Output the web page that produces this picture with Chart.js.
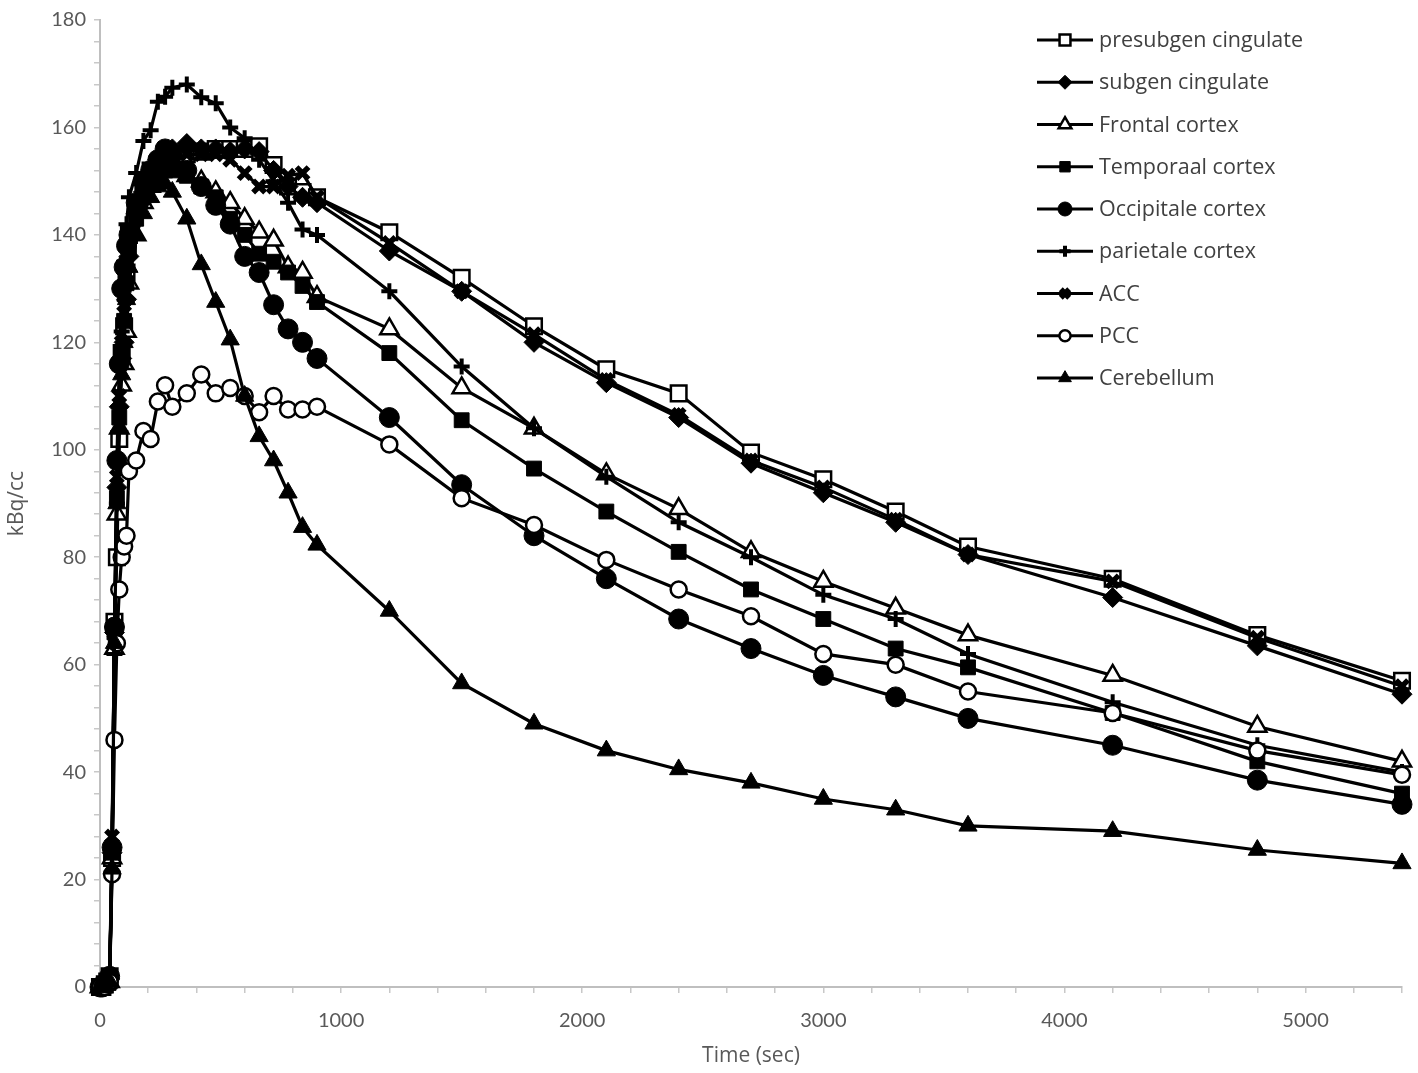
<!DOCTYPE html>
<html lang="en">
<head>
    <meta charset="UTF-8">
    <title>Time activity curves</title>
    <script src="https://cdn.jsdelivr.net/npm/chart.js"></script>
    <style>
        body {
            margin: 0;
            padding: 0;
            background: #fff;
        }
        canvas {
            display: block;
        }
    </style>
</head>
<body>
    <canvas id="tacChart" width="1418" height="1073"></canvas>

    <script>
        // frame times (sec)
        var times = [0, 10, 20, 30, 40, 50, 60, 70, 80, 90, 100, 110, 120,
            150, 180, 210, 240, 270, 300,
            360, 420, 480, 540, 600, 660, 720, 780, 840, 900,
            1200, 1500, 1800, 2100, 2400, 2700, 3000, 3300, 3600, 4200, 4800, 5400];

        var seriesNames = ['presubgen cingulate', 'subgen cingulate', 'Frontal cortex', 'Temporaal cortex',
            'Occipitale cortex', 'parietale cortex', 'ACC', 'PCC', 'Cerebellum'];

        // kBq/cc per region
        var presubgen = [0, 0, 0.5, 1, 2, 24, 68, 80, 102, 118, 123, 133, 140,
            146, 150, 152, 153, 154, 155,
            155, 155.5, 156, 156, 156, 156.5, 153, 149, 148, 147,
            140.5, 132, 123, 115, 110.5, 99.5, 94.5, 88.5, 82, 76, 65.5, 57];
        var subgen = [0, 0, 0.5, 1, 1.5, 25, 66, 93, 108, 117, 120, 128, 136,
            144, 148, 151, 154, 155, 156,
            157, 156, 156, 155.5, 156, 155.5, 152, 149, 147, 146,
            137, 129.5, 120, 112.5, 106, 97.5, 92, 86.5, 80.5, 72.5, 63.5, 54.5];
        var frontal = [0, 0, 0.5, 1, 1, 24, 63, 88, 104, 112, 116, 122, 131,
            140, 146, 149, 151, 152, 152,
            151, 150, 148, 146, 143, 140.5, 139, 134, 133, 128.5,
            122.5, 111.5, 104, 95.5, 89, 81, 75.5, 70.5, 65.5, 58, 48.5, 42];
        var temporaal = [0, 0, 0.5, 1, 1, 25, 66, 91, 106, 118, 124, 131, 137,
            143, 147, 150, 151, 152, 152,
            151, 149, 147, 143, 140, 136.5, 135, 133, 130.5, 127.5,
            118, 105.5, 96.5, 88.5, 81, 74, 68.5, 63, 59.5, 51, 42, 36];
        var occipitale = [0, 0, 0.5, 1, 2, 26, 67, 98, 116, 130, 134, 138, 140,
            146, 150, 152, 154, 156, 155,
            152, 149, 145.5, 142, 136, 133, 127, 122.5, 120, 117,
            106, 93.5, 84, 76, 68.5, 63, 58, 54, 50, 45, 38.5, 34];
        var parietale = [0, 0, 0.5, 1, 1.5, 25, 62, 90, 108, 122, 135, 142, 147,
            151.5, 157.5, 159.5, 164.8, 165.7, 167.4,
            168, 165.6, 164.5, 160, 158, 154, 150, 146, 141, 140,
            129.5, 115.5, 104, 95, 86.5, 80, 73, 68.5, 62, 53, 45, 40];
        var acc = [0, 0, 0.5, 1, 2, 28, 66, 95, 110, 120, 127, 135, 140,
            146, 149, 152, 153, 154, 154,
            155, 155, 155, 154, 151.5, 149, 149, 151, 151.5, 147,
            138.5, 129.5, 121.5, 113, 106.5, 98, 93, 87, 80.5, 75.5, 65, 56];
        var pcc = [0, 0, 0, 0.5, 1, 21, 46, 64, 74, 80, 82, 84, 96,
            98, 103.5, 102, 109, 112, 108,
            110.5, 114, 110.5, 111.5, 110, 107, 110, 107.5, 107.5, 108,
            101, 91, 86, 79.5, 74, 69, 62, 60, 55, 51, 44, 39.5];
        var cerebellum = [0, 0, 0.5, 1, 1, 22, 64, 90, 104, 114, 120, 128, 134,
            140, 144, 147, 149, 149.5, 148,
            143, 134.5, 127.5, 120.5, 110, 102.5, 98, 92, 85.6, 82.3,
            70, 56.5, 49, 44, 40.5, 38, 35, 33, 30, 29, 25.5, 23];

        var seriesValues = [presubgen, subgen, frontal, temporaal, occipitale, parietale, acc, pcc, cerebellum];

        // labelled tick values
        var xLabelValues = [0, 1000, 2000, 3000, 4000, 5000];
        var yLabelValues = [0, 20, 40, 60, 80, 100, 120, 140, 160, 180];

        // marker look for each series
        var markerStyles = [
            { style: 'rect', radius: 11, fill: '#fff', width: 2.5 },
            { style: 'rectRot', radius: 10, fill: '#000', width: 1 },
            { style: 'triangle', radius: 10.5, fill: '#fff', width: 2.5 },
            { style: 'rect', radius: 10.5, fill: '#000', width: 1 },
            { style: 'circle', radius: 10, fill: '#000', width: 1 },
            { style: 'cross', radius: 8, fill: '#000', width: 4 },
            { style: 'crossRot', radius: 8.5, fill: '#000', width: 5.5 },
            { style: 'circle', radius: 8, fill: '#fff', width: 2.5 },
            { style: 'triangle', radius: 10.5, fill: '#000', width: 1 }
        ];

        var datasets = seriesNames.map(function(name, i) {
            var m = markerStyles[i];
            return {
                label: name,
                data: times.map(function(t, k) { return { x: t, y: seriesValues[i][k] }; }),
                borderColor: '#000',
                borderWidth: 3.2,
                pointStyle: m.style,
                pointRadius: m.radius,
                pointBackgroundColor: m.fill,
                pointBorderColor: '#000',
                pointBorderWidth: m.width,
                tension: 0,
                fill: false,
                clip: false,
                order: seriesNames.length - i // later series on top, like the original
            };
        });

        var tickFont = { family: 'Lato, "Open Sans", sans-serif', size: 20 };
        var titleFont = { family: '"Open Sans", sans-serif', size: 21 };
        var textGrey = '#595959';

        // legend drawn as line + marker, like the original
        var sideLegend = {
            id: 'sideLegend',
            afterDatasetsDraw: function(chart) {
                var ctx = chart.ctx;
                ctx.save();
                seriesNames.forEach(function(name, i) {
                    var m = markerStyles[i];
                    var y = 40 + i * 42.25;
                    ctx.strokeStyle = '#000';
                    ctx.lineWidth = 3;
                    ctx.beginPath();
                    ctx.moveTo(1037, y);
                    ctx.lineTo(1093, y);
                    ctx.stroke();
                    ctx.fillStyle = m.fill;
                    ctx.lineWidth = m.width;
                    Chart.helpers.drawPoint(ctx, {
                        pointStyle: m.style,
                        radius: m.radius * 0.7,
                        rotation: 0,
                        borderWidth: m.width
                    }, 1065, y);
                    ctx.fillStyle = '#404040';
                    ctx.font = '21.5px "Open Sans", sans-serif';
                    ctx.textBaseline = 'middle';
                    ctx.textAlign = 'left';
                    ctx.fillText(name, 1099, y + 1);
                });
                ctx.restore();
            }
        };

        var ctx = document.getElementById('tacChart').getContext('2d');
        var tacChart = new Chart(ctx, {
            type: 'line',
            data: { datasets: datasets },
            plugins: [sideLegend],
            options: {
                responsive: false,
                animation: false,
                layout: { padding: { top: 10, right: 8, left: 0, bottom: 0 } },
                plugins: {
                    legend: { display: false },
                    tooltip: { enabled: false }
                },
                scales: {
                    x: {
                        type: 'linear',
                        min: 0,
                        max: 5400,
                        grid: { display: true, drawOnChartArea: false, drawTicks: true, tickLength: 6, color: '#c8c8c8', lineWidth: 1.5 },
                        border: { color: '#bfbfbf', width: 2 },
                        ticks: {
                            stepSize: 200,
                            autoSkip: false,
                            maxRotation: 0,
                            padding: 16,
                            color: textGrey,
                            font: tickFont,
                            callback: function(v) { return xLabelValues.indexOf(v) >= 0 ? String(v) : ''; }
                        },
                        title: { display: true, text: 'Time (sec)', color: textGrey, font: titleFont, padding: { top: 0, bottom: 4 } },
                        afterFit: function(scale) { scale.height = 86; }
                    },
                    y: {
                        min: 0,
                        max: 180,
                        grid: { display: true, drawOnChartArea: false, drawTicks: true, tickLength: 6, color: '#c8c8c8', lineWidth: 1.5 },
                        border: { color: '#bfbfbf', width: 2 },
                        ticks: {
                            stepSize: 4,
                            autoSkip: false,
                            padding: 8,
                            color: textGrey,
                            font: tickFont,
                            callback: function(v) { return yLabelValues.indexOf(v) >= 0 ? String(v) : ''; }
                        },
                        title: { display: true, text: 'kBq/cc', color: textGrey, font: titleFont, padding: { top: 4, bottom: 0 } },
                        afterFit: function(scale) { scale.width = 100; }
                    }
                }
            }
        });
    </script>
</body>
</html>
